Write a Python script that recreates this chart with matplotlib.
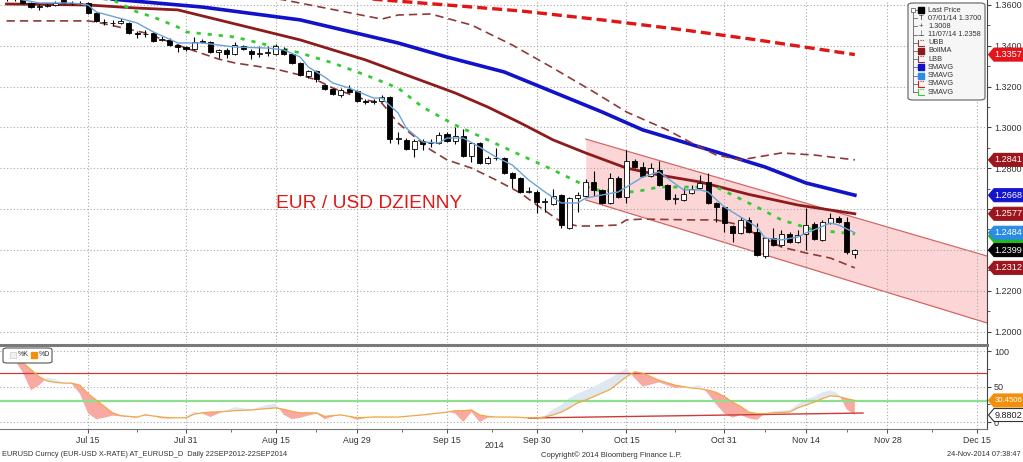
import numpy as np
import matplotlib.pyplot as plt
from matplotlib.patches import Polygon, FancyBboxPatch, Rectangle
from matplotlib.lines import Line2D

plt.rcParams['font.family'] = ['Liberation Sans', 'DejaVu Sans']

W, H = 1023, 462

# daily candles, one per weekday: 01 Jul 2014 = 0 ... 24 Nov 2014 = 104
opens = [1.3640, 1.3628, 1.3630, 1.3610, 1.3592, 1.3595, 1.3602, 1.3625, 1.3612, 1.3608,
         1.3610, 1.3561, 1.3518, 1.3514, 1.3512, 1.3512, 1.3463, 1.3458, 1.3463, 1.3429,
         1.3429, 1.3404, 1.3394, 1.3384, 1.3424, 1.3419, 1.3370, 1.3380, 1.3360, 1.3399,
         1.3375, 1.3362, 1.3365, 1.3360, 1.3384, 1.3360, 1.3316, 1.3252, 1.3277, 1.3208,
         1.3188, 1.3159, 1.3188, 1.3179, 1.3130, 1.3125, 1.3130, 1.3149, 1.2943, 1.2939,
         1.2894, 1.2934, 1.2922, 1.2924, 1.2968, 1.2934, 1.2958, 1.2860, 1.2924, 1.2826,
         1.2848, 1.2850, 1.2777, 1.2752, 1.2686, 1.2684, 1.2637, 1.2625, 1.2669, 1.2507,
         1.2654, 1.2664, 1.2733, 1.2694, 1.2630, 1.2752, 1.2659, 1.2836, 1.2806, 1.2762,
         1.2792, 1.2718, 1.2649, 1.2645, 1.2679, 1.2703, 1.2733, 1.2630, 1.2610, 1.2517,
         1.2483, 1.2547, 1.2488, 1.2370, 1.2458, 1.2424, 1.2478, 1.2439, 1.2478, 1.2527,
         1.2449, 1.2532, 1.2556, 1.2537, 1.2380]
highs = [1.3650, 1.3642, 1.3638, 1.3615, 1.3605, 1.3612, 1.3618, 1.3632, 1.3620, 1.3620,
         1.3615, 1.3566, 1.3531, 1.3527, 1.3536, 1.3517, 1.3472, 1.3478, 1.3468, 1.3448,
         1.3438, 1.3409, 1.3399, 1.3443, 1.3434, 1.3424, 1.3384, 1.3389, 1.3419, 1.3404,
         1.3384, 1.3399, 1.3399, 1.3409, 1.3394, 1.3365, 1.3321, 1.3282, 1.3282, 1.3213,
         1.3193, 1.3193, 1.3208, 1.3184, 1.3140, 1.3140, 1.3159, 1.3154, 1.2978, 1.2948,
         1.2943, 1.2943, 1.2943, 1.2978, 1.2978, 1.3002, 1.2992, 1.2929, 1.2929, 1.2860,
         1.2899, 1.2855, 1.2782, 1.2757, 1.2708, 1.2694, 1.2654, 1.2698, 1.2674, 1.2659,
         1.2684, 1.2747, 1.2787, 1.2698, 1.2777, 1.2762, 1.2890, 1.2845, 1.2831, 1.2826,
         1.2836, 1.2723, 1.2674, 1.2703, 1.2718, 1.2767, 1.2777, 1.2635, 1.2615, 1.2522,
         1.2561, 1.2561, 1.2532, 1.2463, 1.2507, 1.2498, 1.2488, 1.2498, 1.2605, 1.2537,
         1.2547, 1.2581, 1.2566, 1.2561, 1.2404]
lows = [1.3620, 1.3618, 1.3605, 1.3585, 1.3576, 1.3590, 1.3595, 1.3605, 1.3600, 1.3600,
        1.3556, 1.3517, 1.3502, 1.3497, 1.3507, 1.3458, 1.3438, 1.3443, 1.3419, 1.3424,
        1.3399, 1.3370, 1.3375, 1.3380, 1.3414, 1.3365, 1.3340, 1.3340, 1.3355, 1.3380,
        1.3335, 1.3345, 1.3350, 1.3355, 1.3355, 1.3311, 1.3252, 1.3242, 1.3223, 1.3184,
        1.3159, 1.3149, 1.3169, 1.3125, 1.3115, 1.3115, 1.3125, 1.2924, 1.2919, 1.2890,
        1.2855, 1.2890, 1.2904, 1.2919, 1.2929, 1.2919, 1.2855, 1.2831, 1.2821, 1.2821,
        1.2841, 1.2772, 1.2703, 1.2679, 1.2679, 1.2581, 1.2586, 1.2620, 1.2507, 1.2502,
        1.2586, 1.2659, 1.2664, 1.2625, 1.2625, 1.2654, 1.2630, 1.2801, 1.2757, 1.2757,
        1.2713, 1.2645, 1.2625, 1.2640, 1.2674, 1.2698, 1.2625, 1.2537, 1.2488, 1.2439,
        1.2478, 1.2483, 1.2370, 1.2358, 1.2419, 1.2419, 1.2434, 1.2434, 1.2400, 1.2449,
        1.2444, 1.2527, 1.2532, 1.2380, 1.2360]
closes = [1.3628, 1.3630, 1.3610, 1.3590, 1.3595, 1.3602, 1.3608, 1.3612, 1.3608, 1.3612,
          1.3561, 1.3522, 1.3515, 1.3512, 1.3520, 1.3463, 1.3458, 1.3460, 1.3424, 1.3431,
          1.3404, 1.3394, 1.3384, 1.3419, 1.3419, 1.3370, 1.3380, 1.3360, 1.3404, 1.3384,
          1.3360, 1.3365, 1.3372, 1.3399, 1.3360, 1.3316, 1.3257, 1.3277, 1.3237, 1.3188,
          1.3164, 1.3184, 1.3174, 1.3130, 1.3125, 1.3130, 1.3149, 1.2943, 1.2946, 1.2894,
          1.2934, 1.2919, 1.2926, 1.2963, 1.2934, 1.2958, 1.2860, 1.2924, 1.2826, 1.2850,
          1.2852, 1.2777, 1.2752, 1.2684, 1.2689, 1.2635, 1.2640, 1.2664, 1.2522, 1.2654,
          1.2669, 1.2733, 1.2694, 1.2630, 1.2752, 1.2659, 1.2836, 1.2806, 1.2762, 1.2801,
          1.2718, 1.2649, 1.2652, 1.2674, 1.2698, 1.2728, 1.2630, 1.2610, 1.2532, 1.2483,
          1.2547, 1.2488, 1.2375, 1.2458, 1.2424, 1.2478, 1.2439, 1.2473, 1.2522, 1.2454,
          1.2537, 1.2556, 1.2537, 1.2390, 1.2399]

# overlay studies at a few days each
sma_blue_x = [0, 14, 24, 36, 48, 54, 61, 67, 73, 78, 87, 93, 98, 104]
sma_blue_y = [1.3683, 1.3625, 1.3590, 1.3527, 1.3414, 1.3345, 1.3272, 1.3174, 1.3076, 1.2988,
              1.2880, 1.2806, 1.2728, 1.2668]
boll_x = [0, 10, 16, 21, 31, 36, 40, 44, 48, 55, 59, 63, 67, 71, 76, 80, 85, 91, 97, 104]
boll_y = [1.3605, 1.3600, 1.3585, 1.3576, 1.3478, 1.3429, 1.3380, 1.3331, 1.3272, 1.3169,
          1.3100, 1.3022, 1.2939, 1.2875, 1.2801, 1.2767, 1.2733, 1.2672, 1.2620, 1.2577]
ubb_x = [0, 18, 34, 46, 48, 52, 57, 62, 67, 72, 76, 81, 84, 87, 90, 95, 99, 104]
ubb_y = [1.3747, 1.3723, 1.3625, 1.3531, 1.3551, 1.3556, 1.3502, 1.3404, 1.3291, 1.3174,
         1.3076, 1.2988, 1.2924, 1.2865, 1.2841, 1.2875, 1.2865, 1.2841]
lbb_x = [0, 10, 11, 17, 22, 26, 28, 33, 36, 38, 40, 44, 46, 48, 49, 52, 54, 57, 60, 63,
         65, 68, 70, 72, 75, 76, 78, 84, 87, 90, 92, 95, 98, 101, 104]
lbb_y = [1.3522, 1.3522, 1.3517, 1.3463, 1.3389, 1.3335, 1.3316, 1.3286, 1.3257, 1.3233,
         1.3193, 1.3135, 1.3120, 1.3022, 1.2988, 1.2890, 1.2841, 1.2801, 1.2743, 1.2679,
         1.2620, 1.2537, 1.2517, 1.2517, 1.2522, 1.2547, 1.2551, 1.2547, 1.2547, 1.2522,
         1.2473, 1.2414, 1.2385, 1.2360, 1.2312]
sma_green_x = [0, 7, 13, 16, 18, 21, 22, 28, 33, 36, 40, 44, 48, 51, 55, 59, 63, 67, 72,
               77, 80, 87, 92, 95, 99, 104]
sma_green_y = [1.3674, 1.3649, 1.3625, 1.3566, 1.3541, 1.3492, 1.3468, 1.3443, 1.3394, 1.3365,
               1.3316, 1.3257, 1.3193, 1.3100, 1.3012, 1.2939, 1.2865, 1.2792, 1.2694, 1.2684,
               1.2708, 1.2708, 1.2610, 1.2547, 1.2498, 1.2478]
sma_lblue_x = [0, 4, 8, 10, 11, 16, 18, 21, 24, 28, 32, 34, 36, 37, 39, 40, 42, 45, 46, 48,
               49, 51, 53, 54, 56, 58, 60, 62, 64, 66, 68, 70, 71, 73, 75, 76, 78, 80, 81, 83,
               85, 86, 88, 90, 92, 93, 95, 97, 98, 99, 101, 102, 104]
sma_lblue_y = [1.3640, 1.3610, 1.3610, 1.3600, 1.3566, 1.3512, 1.3468, 1.3414, 1.3414, 1.3394,
               1.3389, 1.3380, 1.3345, 1.3296, 1.3247, 1.3218, 1.3193, 1.3144, 1.3144, 1.3071,
               1.2997, 1.2929, 1.2924, 1.2948, 1.2948, 1.2904, 1.2855, 1.2816, 1.2743, 1.2684,
               1.2630, 1.2630, 1.2654, 1.2669, 1.2684, 1.2708, 1.2757, 1.2782, 1.2752, 1.2694,
               1.2694, 1.2684, 1.2610, 1.2561, 1.2512, 1.2458, 1.2449, 1.2463, 1.2483, 1.2498,
               1.2532, 1.2522, 1.2484]
sma_red_x = [36, 46, 54, 63, 73, 83, 92, 104]
sma_red_y = [1.3664, 1.3625, 1.3600, 1.3571, 1.3527, 1.3478, 1.3429, 1.3357]

# drawn down-trend channel
chan_x = [71, 120.2]
chan_top = [1.2943, 1.2370]
chan_bot = [1.2645, 1.2042]

# stochastics panel
sto_x = [0, 1, 2, 3, 4, 5, 6, 7, 8, 9, 10, 11, 12, 13, 14, 16, 17, 19, 20, 22, 23, 24, 25,
         27, 28, 30, 32, 33, 34, 35, 36, 38, 39, 41, 43, 45, 48, 51, 54, 55, 56, 57, 58, 59,
         60, 62, 64, 65, 66, 67, 68, 69, 70, 71, 72, 74, 76, 77, 78, 80, 82, 84, 85, 86, 87,
         88, 89, 90, 91, 92, 93, 94, 96, 97, 98, 99, 100, 101, 102, 103, 104]
sto_d = [86, 87, 84, 74, 64, 58, 56, 55, 55, 52, 40, 31, 22, 13, 9, 7, 10, 7, 6, 6, 11, 13, 14,
         15, 16, 17, 19, 20, 18, 15, 13, 13, 8, 10, 6, 7, 7, 10, 14, 16, 16, 17, 10, 8,
         7, 7, 6, 6, 7, 10, 14, 20, 27, 31, 36, 46, 64, 71, 69, 59, 52, 48, 47, 45, 42,
         36, 28, 22, 14, 12, 12, 13, 14, 20, 24, 28, 33, 37, 36, 33, 30.4506]
sto_k = [92, 88, 70, 45, 52, 63, 60, 56, 54, 40, 12, 4, 6, 9, 8, 6, 12, 5, 5, 7, 15, 12, 7,
         17, 21, 18, 24, 26, 10, 4, 6, 12, 4, 11, 3, 8, 7, 11, 15, 12, 0, 14, 0, 6,
         7, 7, 5, 4, 9, 18, 24, 34, 40, 45, 50, 62, 76, 62, 50, 56, 48, 50, 52, 40, 25,
         12, 6, 10, 5, 3, 12, 15, 17, 25, 32, 36, 42, 45, 40, 18, 9.8802]
trend_x = [64, 105]
trend_y = [5.7, 12.7]

date_pos = [10, 22, 33, 43, 54, 65, 76, 88, 98, 108, 119]
date_lab = ['Jul 15', 'Jul 31', 'Aug 15', 'Aug 29', 'Sep 15', 'Sep 30', 'Oct 15',
            'Oct 31', 'Nov 14', 'Nov 28', 'Dec 15']
price_ticks = [1.20, 1.22, 1.24, 1.26, 1.28, 1.30, 1.32, 1.34, 1.36]
# 1.2400 and 1.2600 sit under the last-value tags
price_tick_lab = ['1.2000', '1.2200', '', '', '1.2800', '1.3000', '1.3200', '1.3400', '1.3600']


def fx(px):
    return px / W


def fy(py):
    return 1 - py / H


fig = plt.figure(figsize=(W / 100, H / 100), dpi=100)
ax = fig.add_axes([0, fy(343), fx(987), 343 / H])
ax2 = fig.add_axes([0, fy(429), fx(987), (429 - 347) / H])

grid_kw = dict(color='#a8a8a8', linestyle=(0, (1, 2)), linewidth=0.8)

# ---- price panel
ax.fill_between(chan_x, chan_bot, chan_top, color='#fcd6d6', lw=0, zorder=1)
ax.plot(chan_x, chan_top, color='#d46666', lw=0.9, zorder=1.5)
ax.plot(chan_x, chan_bot, color='#d46666', lw=0.9, zorder=1.5)

ax.plot(sma_red_x, sma_red_y, color='#e01515', lw=2.4, ls=(0, (3, 1.5)), zorder=3)
ax.plot(sma_blue_x, sma_blue_y, color='#1212c8', lw=2.6, zorder=3)
ax.plot(boll_x, boll_y, color='#8e1b1b', lw=2.0, zorder=3)
ax.plot(ubb_x, ubb_y, color='#8e3a3a', lw=1.2, ls=(0, (5, 3)), zorder=3)
ax.plot(lbb_x, lbb_y, color='#8e3a3a', lw=1.2, ls=(0, (5, 3)), zorder=3)
ax.plot(sma_green_x, sma_green_y, color='#33cc33', lw=2.0, ls=(0, (1.5, 2.5)), zorder=3)
ax.plot(sma_lblue_x, sma_lblue_y, color='#6aa3d8', lw=1.0, zorder=6)

o = np.array(opens)
h = np.array(highs)
l = np.array(lows)
c = np.array(closes)
days = np.arange(len(o))
up = c >= o
ax.vlines(days, l, h, color='black', lw=0.8, zorder=4)
ax.bar(days, np.maximum(np.abs(c - o), 0.00012), bottom=np.minimum(o, c), width=0.62,
       color=np.where(up, 'white', 'black'), edgecolor='black', lw=0.6, zorder=5)

ax.text(33.0, 1.2628, 'EUR / USD DZIENNY', color='#e01818', fontsize=13.8, va='center', zorder=7)

ax.yaxis.tick_right()
ax.set_yticks(price_ticks)
ax.set_yticks(np.arange(1.20, 1.3601, 0.01), minor=True)
ax.set_yticklabels(price_tick_lab)
ax.tick_params(axis='y', which='both', direction='out', colors='#444444', labelsize=6.5,
               labelcolor='#333333', pad=2)
ax.tick_params(axis='y', which='major', length=3)
ax.tick_params(axis='y', which='minor', length=2)
ax.set_xticks(date_pos)
ax.tick_params(axis='x', length=0, labelbottom=False)
ax.grid(True, **grid_kw)
ax.set_xlim(-0.8, 120.2)
ax.set_ylim(1.19438, 1.36245)
for s in ['top', 'left', 'bottom']:
    ax.spines[s].set_visible(False)
ax.spines['right'].set_color('#444444')

# ---- stochastics panel
k = np.array(sto_k, dtype=float)
d = np.array(sto_d, dtype=float)
ax2.fill_between(sto_x, k, d, where=k < d, interpolate=True, color='#f8aaa2', lw=0, zorder=2)
ax2.fill_between(sto_x, k, d, where=k >= d, interpolate=True, color='#dde8f1', lw=0, zorder=2)
ax2.axhline(70, color='#cc3a3a', lw=0.9, zorder=3)
ax2.axhline(30, color='#8ee08e', lw=1.6, zorder=3)
ax2.plot(trend_x, trend_y, color='#cc3a3a', lw=1.0, zorder=3)
ax2.plot(sto_x, d, color='#f0a848', lw=0.9, zorder=4)

ax2.yaxis.tick_right()
ax2.set_yticks([0, 50, 100])
ax2.set_yticks([25, 75], minor=True)
ax2.tick_params(axis='y', which='both', direction='out', colors='#444444', labelsize=6.5,
                labelcolor='#333333', pad=2)
ax2.tick_params(axis='y', which='major', length=3)
ax2.tick_params(axis='y', which='minor', length=2)
ax2.set_xticks(date_pos)
ax2.set_xticklabels(date_lab)
ax2.set_xticks([(a + b) / 2 for a, b in zip(date_pos[:-1], date_pos[1:])], minor=True)
ax2.tick_params(axis='x', which='both', direction='out', colors='#555555', labelsize=6.3,
                labelcolor='#333333', pad=2)
ax2.tick_params(axis='x', which='major', length=3)
ax2.tick_params(axis='x', which='minor', length=2)
ax2.grid(True, **grid_kw)
ax2.set_xlim(-0.8, 120.2)
ax2.set_ylim(-9.9, 106.1)
for s in ['top', 'left']:
    ax2.spines[s].set_visible(False)
ax2.spines['right'].set_color('#444444')
ax2.spines['bottom'].set_color('#777777')

fig.add_artist(Line2D([0, fx(987)], [fy(344.5), fy(344.5)], color='#7a7a7a', lw=2.2))


# ---- last-value tags on the right
def tag(axis, value, text, fc, tc='white', ec=None, fs=6.6):
    disp = axis.transData.transform((0, value))
    yf = fig.transFigure.inverted().transform(disp)[1]
    hh = 6.5 / H
    pts = [(fx(988.5), yf), (fx(994), yf + hh), (fx(1030), yf + hh),
           (fx(1030), yf - hh), (fx(994), yf - hh)]
    fig.add_artist(Polygon(pts, closed=True, transform=fig.transFigure, fc=fc,
                           ec=ec if ec else fc, lw=0.8, zorder=30))
    fig.text(fx(994.5), yf, text, color=tc, fontsize=fs, va='center', ha='left', zorder=31)


tag(ax, 1.3357, '1.3357', '#e4141c')
tag(ax, 1.2841, '1.2841', '#9c151c')
tag(ax, 1.2668, '1.2668', '#1414cc')
tag(ax, 1.2577, '1.2577', '#9c151c')
tag(ax, 1.2468, '', '#22bb22')
tag(ax, 1.2484, '1.2484', '#2a8ce2')
tag(ax, 1.2399, '1.2399', '#000000')
tag(ax, 1.2312, '1.2312', '#9c151c')
tag(ax2, 30.4506, '30.4506', '#f0900c', fs=5.6)
tag(ax2, 9.8802, '9.8802', 'white', tc='#222222', ec='#333333')

# ---- legend of the price panel
fig.add_artist(FancyBboxPatch((fx(908), fy(100)), fx(985) - fx(908), fy(3) - fy(100),
                              boxstyle='round,pad=0,rounding_size=0.005',
                              transform=fig.transFigure, fc='#f6f6f6', ec='#707070',
                              lw=0.9, zorder=20))
leg_labels = ['Last Price', '07/01/14 1.3700', '1.3008', '11/07/14 1.2358', 'UBB', 'BollMA',
              'LBB', 'SMAVG', 'SMAVG', 'SMAVG', 'SMAVG']
leg_kind = ['sq', 'T', '+', 'L', 'dash', 'sq', 'dash', 'sq', 'sq', 'dash', 'dot']
leg_col = ['black', '#333333', '#333333', '#333333', '#8e3a3a', '#8e1b1b', '#8e3a3a',
           '#1212c8', '#2a8ce2', '#e01515', '#33cc33']
ys = [10 + 8.2 * i for i in range(len(leg_labels))]
fig.add_artist(Line2D([fx(913), fx(913)], [fy(ys[0]), fy(ys[-1])], color='#666666',
                      lw=0.6, zorder=21))
for yy, lab, kind, col in zip(ys, leg_labels, leg_kind, leg_col):
    fig.add_artist(Line2D([fx(913), fx(917)], [fy(yy), fy(yy)], color='#666666', lw=0.6,
                          zorder=21))
    if kind == 'sq':
        fig.add_artist(Rectangle((fx(918), fy(yy + 3)), fx(6), 6 / H, transform=fig.transFigure,
                                 fc=col, ec=col, zorder=22))
    elif kind in ('dash', 'dot'):
        fig.add_artist(Line2D([fx(918), fx(918), fx(924)], [fy(yy - 3), fy(yy + 3), fy(yy + 3)],
                              color=col, lw=0.8, zorder=22))
        fig.add_artist(Line2D([fx(919.5), fx(924)], [fy(yy - 3), fy(yy - 3)], color=col,
                              lw=0.8, ls=(0, (1, 1)), zorder=22))
    else:
        sym = {'T': 'T', '+': '+', 'L': '\u22a5'}[kind]
        fig.text(fx(921), fy(yy), sym, fontsize=5.5, color=col, ha='center', va='center',
                 zorder=22)
    fig.text(fx(928), fy(yy), lab, fontsize=5.3, color='#333333', va='center', zorder=22)
fig.add_artist(Rectangle((fx(911), fy(12)), fx(4), 4 / H, transform=fig.transFigure,
                         fc='white', ec='#666666', lw=0.6, zorder=23))

# ---- legend of the stochastics panel
fig.add_artist(FancyBboxPatch((fx(3), fy(363)), fx(49), 15 / H,
                              boxstyle='round,pad=0,rounding_size=0.004',
                              transform=fig.transFigure, fc='white', ec='#555555',
                              lw=0.8, zorder=20))
fig.add_artist(Rectangle((fx(10), fy(358)), fx(6), 6 / H, transform=fig.transFigure,
                         fc='#eef2f5', ec='#cccccc', lw=0.5, zorder=21))
fig.text(fx(18), fy(355), '%K', fontsize=5, color='#333333', va='center', zorder=21)
fig.add_artist(Rectangle((fx(31), fy(358)), fx(6), 6 / H, transform=fig.transFigure,
                         fc='#f0900c', ec='#f0900c', zorder=21))
fig.text(fx(39), fy(355), '%D', fontsize=5, color='#333333', va='center', zorder=21)

# ---- footer
fig.text(fx(494), fy(446), '2014', fontsize=6.3, color='#333333', ha='center', va='center')
fig.text(fx(2), fy(455), 'EURUSD Curncy (EUR-USD X-RATE) AT_EURUSD_D  Daily 22SEP2012-22SEP2014',
         fontsize=5.3, color='#333333', va='center')
fig.text(fx(541), fy(455), 'Copyright\u00a9 2014 Bloomberg Finance L.P.', fontsize=5.5,
         color='#333333', va='center')
fig.text(fx(1021), fy(455), '24-Nov-2014 07:38:47', fontsize=5.3, color='#333333',
         va='center', ha='right')

fig.savefig('out.png', dpi=100)
